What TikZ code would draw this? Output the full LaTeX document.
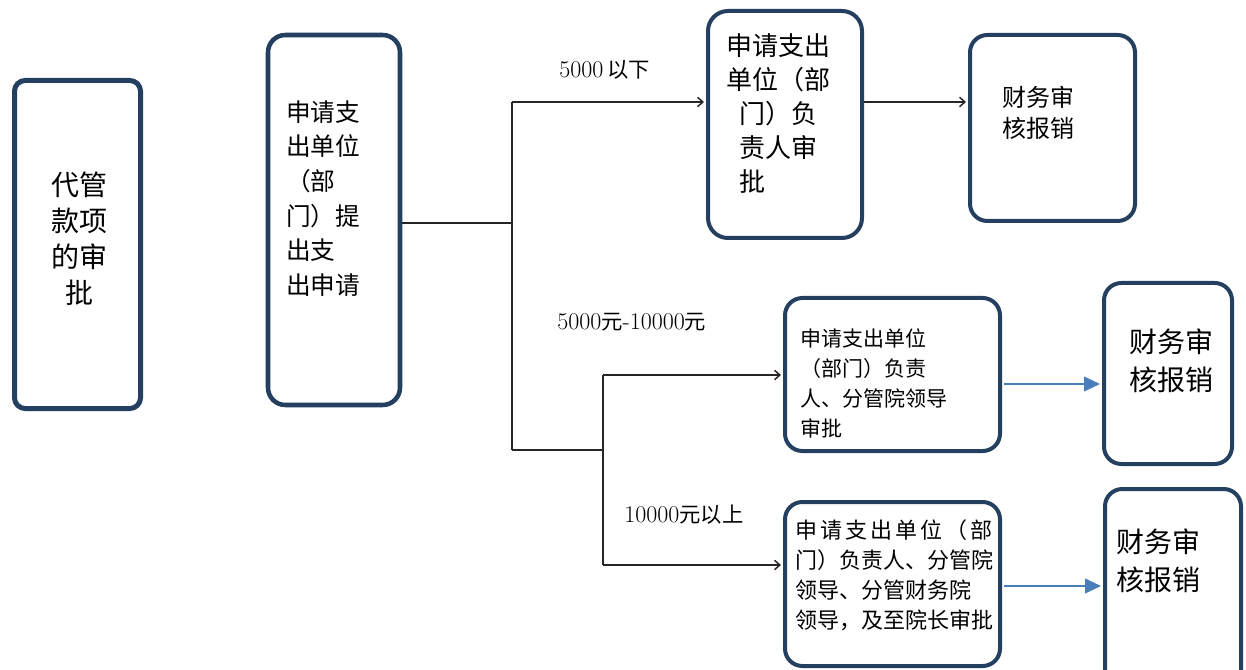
\documentclass[tikz,border=0pt]{standalone}
\usepackage{fontspec}
\newfontfamily\cjk{Noto Sans CJK SC}
\usetikzlibrary{arrows.meta}
\definecolor{boxblue}{HTML}{243F60}
\definecolor{arrblue}{HTML}{4A7EBB}
\definecolor{linegray}{HTML}{262626}
\begin{document}
\begin{tikzpicture}[x=0.75pt,y=-0.75pt,
  box/.style={draw=boxblue, line width=3pt, rounded corners=13pt, inner sep=0pt, fill=white},
  txt/.style={inner sep=0pt, anchor=west, align=left, text=black},
  lbl/.style={inner sep=0pt, anchor=west, text=black, font=\fontsize{18}{20}\selectfont},
  cj/.style={font=\cjk\fontsize{16}{20}\selectfont},
  conn/.style={draw=linegray, line width=1.1pt},
  arr/.style={conn, -{Straight Barb[length=4pt,width=7pt,line width=1.1pt]}},
  barr/.style={draw=arrblue, line width=1.5pt, -{Triangle[length=12pt,width=11pt]}}
]
\useasboundingbox (0,0) rectangle (1246,670);
\clip (0,0) rectangle (1246,670);
\fill[white] (0,0) rectangle (1246,670);

% boxes
\node[box, line width=3.75pt, rounded corners=8pt, minimum width=94.5pt, minimum height=246pt] (b1) at (77.5,244.5) {};
\node[box, line width=3.4pt, minimum width=99pt, minimum height=277.5pt] (b2) at (334,220) {};
\node[box, rounded corners=15pt, minimum width=115.5pt, minimum height=170.25pt] (b3) at (785,124.5) {};
\node[box, minimum width=123.75pt, minimum height=139.5pt] (b4) at (1052.5,128) {};
\node[box, minimum width=161.25pt, minimum height=114.75pt] (b5) at (892.5,374.5) {};
\node[box, minimum width=96pt, minimum height=135.75pt] (b6) at (1168,373.5) {};
\node[box, minimum width=161.25pt, minimum height=123pt] (b7) at (892.5,584) {};
\node[box, minimum width=102pt, minimum height=158.25pt] (b8) at (1173,594.5) {};

% texts
\node[txt, anchor=center, align=center, font=\cjk\fontsize{21}{27}\selectfont] (t1) at (79,239) {代管\\款项\\的审\\批};
\node[txt, font=\cjk\fontsize{18.5}{26}\selectfont] (t2) at (286,198.5) {申请支\\出单位\\（部\\门）提\\出支\\出申请};
\node[txt, font=\cjk\fontsize{19.5}{25.5}\selectfont] (t3) at (726,113.5) {申请支出\\单位（部\\\hspace*{9.75pt}门）负\\\hspace*{9.75pt}责人审\\\hspace*{9.75pt}批};
\node[txt, font=\cjk\fontsize{18}{23}\selectfont] (t4) at (1002,112.5) {财务审\\核报销};
\node[txt, font=\cjk\fontsize{15.75}{22.5}\selectfont] (t5) at (800,383) {申请支出单位\\（部门）负责\\人、分管院领导\\审批};
\node[txt, font=\cjk\fontsize{21}{28.5}\selectfont] (t6) at (1129,361) {财务审\\核报销};
\node[txt, font=\cjk\fontsize{16.5}{22.5}\selectfont] (t7) at (795,575) {\makebox[147.75pt][s]{申\hfill 请\hfill 支\hfill 出\hfill 单\hfill 位\hfill （\hfill 部}\\门）负责人、分管院\\领导、分管财务院\\领导，及至院长审批};
\node[txt, font=\cjk\fontsize{21}{28.5}\selectfont] (t8) at (1116,561) {财务审\\核报销};

% labels
\node[lbl] (l1) at (559,70) {5000\,{\cjk\fontsize{16}{20}\selectfont 以下}};
\node[lbl] (l2) at (557,322) {5000{\cjk\fontsize{16}{20}\selectfont 元}-10000{\cjk\fontsize{16}{20}\selectfont 元}};
\node[lbl] (l3) at (624,515) {10000{\cjk\fontsize{16}{20}\selectfont 元以上}};

% junctions
\coordinate (j0) at (512,223);
\coordinate (j1) at (512,102);
\coordinate (j2) at (512,450);
\coordinate (j3) at (603,450);
\coordinate (j4) at (603,375);
\coordinate (j5) at (603,565);
\coordinate (k1) at (1000,384);
\coordinate (k2) at (1000,586);

% connectors
\draw[conn] (b2.east |- j0) -- (j0);
\draw[conn] (j1) -- (j2);
\draw[arr] (j1) -- ([xshift=-1.5pt]b3.west |- j1);
\draw[arr] (b3.east |- j1) -- ([xshift=-1.5pt]b4.west |- j1);
\draw[conn] (j2) -- (j3);
\draw[conn] (j4) -- (j5);
\draw[arr] (j4) -- ([xshift=-1.5pt]b5.west |- j4);
\draw[arr] (j5) -- ([xshift=-1.5pt]b7.west |- j5);
\draw[barr] ([xshift=1.5pt]b5.east |- k1) -- ([xshift=-1.5pt]b6.west |- k1);
\draw[barr] ([xshift=1.5pt]b7.east |- k2) -- ([xshift=-1.5pt]b8.west |- k2);
\end{tikzpicture}
\end{document}
